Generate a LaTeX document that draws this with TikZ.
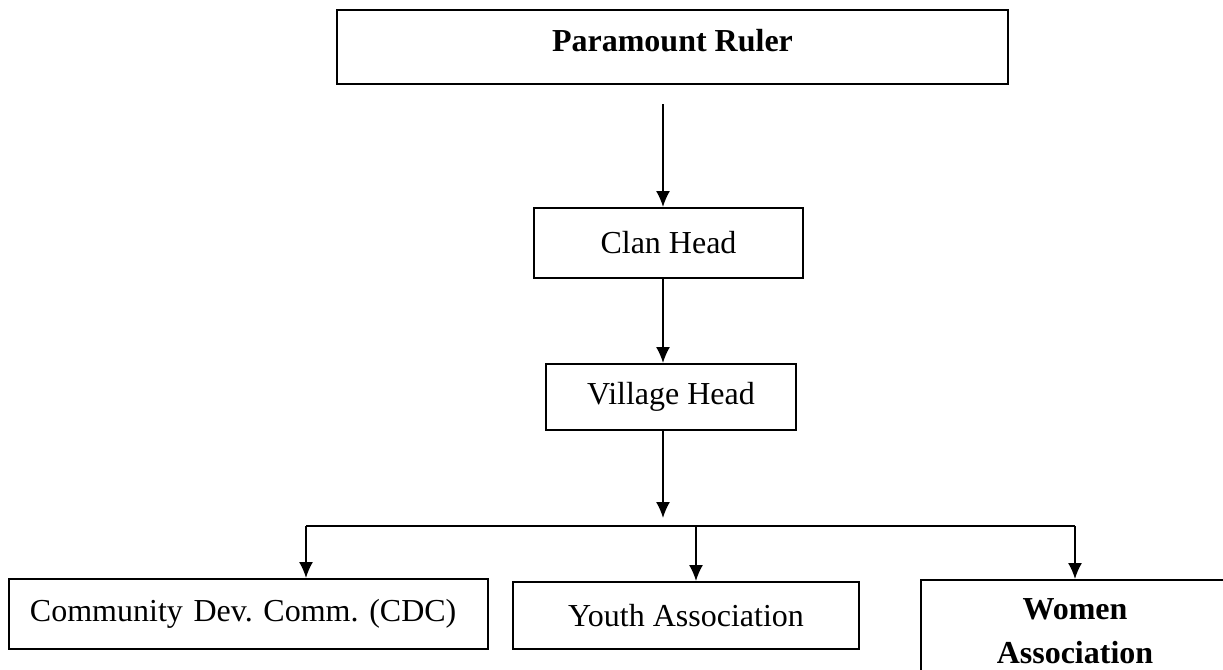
\documentclass[tikz,border=0pt]{standalone}
\usepackage{fontspec}
\setmainfont{Liberation Serif}
\usetikzlibrary{arrows.meta}

\begin{document}
\begin{tikzpicture}[x=0.5pt, y=-0.5pt, line width=0.8pt,
  unit/.style={draw, line width=1pt, font=\fontsize{16}{22}\selectfont\frenchspacing, inner sep=0pt},
  flow/.style={-{Latex[length=8pt,width=7pt]}}]
\useasboundingbox (0,0) rectangle (1223,670);
% edit here for the boxes
\node[unit, minimum width=335.5pt, minimum height=37pt, text depth=6pt] (ruler) at (672.5,46.5) {\textbf{Paramount Ruler}};
\node[unit, minimum width=134.5pt, minimum height=35pt] (clan) at (668.5,243) {Clan Head};
\node[unit, minimum width=125pt, minimum height=33pt] (village) at (671,397) {Village Head};
\node[unit, text width=218.5pt, inner xsep=10.5pt, align=left, minimum height=35pt] (cdc) at (248.5,614) {\mbox{Community Dev. Comm. (CDC)}};
\node[unit, minimum width=173pt, minimum height=33.5pt] (youth) at (686,615.5) {Youth Association};
\node[unit, text width=154pt, align=center, anchor=north, inner ysep=9.5pt] (women) at (1075,579) {\textbf{Women}\\\textbf{Association}\\ \strut};
% edit here for the arrows
\coordinate (spine) at (663,104);
\draw[flow] (spine) -- (spine |- clan.north);
\draw[flow] (spine |- clan.south) -- (spine |- village.north);
\coordinate (hub) at (663,518);
\draw[flow] (spine |- village.south) -- (hub);
\coordinate (busL) at (306,526);
\coordinate (busR) at (1075,526);
\draw (busL) -- (busR);
\foreach \n/\x in {cdc/306,youth/696,women/1075}
{\coordinate (top\n) at (\x,526);
\draw[flow] (top\n) -- (top\n |- \n.north);}
\end{tikzpicture}
\end{document}
